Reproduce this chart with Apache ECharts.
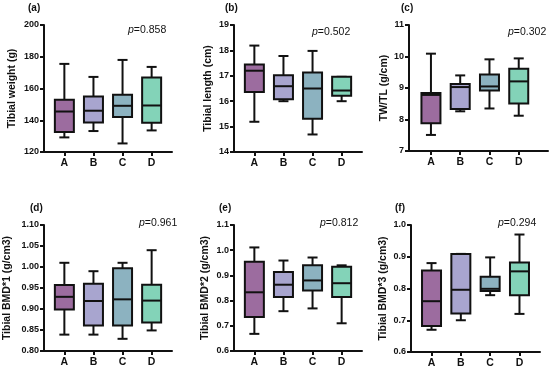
<!DOCTYPE html>
<html>
<head>
<meta charset="utf-8">
<script src="https://cdn.jsdelivr.net/npm/echarts@6/dist/echarts.min.js"></script>
<style>html,body{margin:0;padding:0;background:#fff}#c{width:550px;height:371px}</style>
</head>
<body>
<div id="c"></div>
<script>
// ---- data: each row = [min, Q1, median, Q3, max] for groups A..D ----
const categories = ['A', 'B', 'C', 'D'];
const weightStats = [
  [129.2, 132.6, 145.5, 152.9, 175.5],
  [133.2, 138.6, 146.0, 155.0, 167.3],
  [125.4, 142.0, 149.1, 156.0, 178.0],
  [133.6, 138.4, 149.3, 166.9, 173.6]
];
const lengthStats = [
  [15.19, 16.36, 17.20, 17.44, 18.19],
  [16.00, 16.08, 16.59, 17.02, 17.78],
  [14.69, 15.31, 16.50, 17.13, 17.98],
  [16.00, 16.21, 16.42, 16.96, 16.96]
];
const ratioStats = [
  [7.51, 7.88, 8.78, 8.84, 10.09],
  [8.26, 8.33, 9.03, 9.13, 9.40],
  [8.35, 8.92, 9.05, 9.43, 9.91],
  [8.12, 8.51, 9.21, 9.61, 9.94]
];
const bmd1Stats = [
  [0.839, 0.899, 0.929, 0.957, 1.010],
  [0.839, 0.861, 0.919, 0.960, 0.990],
  [0.829, 0.861, 0.923, 0.997, 1.010],
  [0.849, 0.868, 0.920, 0.958, 1.040]
];
const bmd2Stats = [
  [0.668, 0.735, 0.833, 0.954, 1.011],
  [0.758, 0.814, 0.863, 0.913, 0.959],
  [0.769, 0.840, 0.880, 0.940, 0.971],
  [0.710, 0.814, 0.869, 0.934, 0.940]
];
const bmd3Stats = [
  [0.670, 0.682, 0.760, 0.857, 0.880],
  [0.700, 0.721, 0.796, 0.909, 0.909],
  [0.779, 0.792, 0.799, 0.837, 0.898],
  [0.720, 0.779, 0.854, 0.882, 0.970]
];
const panelLabels = ['(a)', '(b)', '(c)', '(d)', '(e)', '(f)'];
const pValues = ['0.858', '0.502', '0.302', '0.961', '0.812', '0.294'];
const yNames = ['Tibial weight (g)', 'Tibial length (cm)', 'TW/TL (g/cm)',
  'Tibial BMD*1 (g/cm3)', 'Tibial BMD*2 (g/cm3)', 'Tibial BMD*3 (g/cm3)'];
const yMin = [120, 14, 7, 0.80, 0.6, 0.6];
const yMax = [200, 19, 11, 1.10, 1.1, 1.0];
const yInterval = [20, 1, 1, 0.05, 0.1, 0.1];
const yDecimals = [0, 0, 0, 2, 1, 1];
const allStats = [weightStats, lengthStats, ratioStats, bmd1Stats, bmd2Stats, bmd3Stats];

// ---- layout / style ----
const boxColors = ['#9c6c9f', '#a8a5cf', '#8cb2c0', '#83d3b8'];
const grids = [
  {left: 44, top: 25, width: 128, height: 127},
  {left: 234, top: 25, width: 128, height: 127},
  {left: 409, top: 25, width: 139, height: 126},
  {left: 44, top: 225, width: 128, height: 126},
  {left: 234, top: 225, width: 128, height: 126},
  {left: 411, top: 225, width: 129, height: 127}
];
const xRange = [[-0.7, 3.7], [-0.7, 3.7], [-0.75, 4.0], [-0.7, 3.7], [-0.7, 3.7], [-0.7, 3.7]];
const nameGaps = [26, 20, 15, 31, 23, 22];
const labelPos = [[28, 3], [225, 3], [401, 3], [30, 203], [219, 203], [395, 203]];
const pPos = [[128, 25], [312, 27], [508, 27], [139, 218], [320, 218], [498, 218]];

const FONT = 'Liberation Sans, Arial, sans-serif';
const INK = '#111';

function renderBox(params, api) {
  const x = api.value(0);
  const pMin = api.coord([x, api.value(1)]);
  const pQ1 = api.coord([x, api.value(2)]);
  const pMed = api.coord([x, api.value(3)]);
  const pQ3 = api.coord([x, api.value(4)]);
  const pMax = api.coord([x, api.value(5)]);
  const cx = pMed[0];
  const hw = 9.5, cw = 5;
  const ls = {stroke: INK, lineWidth: 2};
  return {
    type: 'group',
    children: [
      {type: 'line', shape: {x1: cx, y1: pMin[1], x2: cx, y2: pQ1[1]}, style: ls},
      {type: 'line', shape: {x1: cx, y1: pQ3[1], x2: cx, y2: pMax[1]}, style: ls},
      {type: 'line', shape: {x1: cx - cw, y1: pMin[1], x2: cx + cw, y2: pMin[1]}, style: ls},
      {type: 'line', shape: {x1: cx - cw, y1: pMax[1], x2: cx + cw, y2: pMax[1]}, style: ls},
      {type: 'rect', shape: {x: cx - hw, y: pQ3[1], width: hw * 2, height: pQ1[1] - pQ3[1]},
        style: {fill: boxColors[params.dataIndex % 4], stroke: INK, lineWidth: 2}},
      {type: 'line', shape: {x1: cx - hw, y1: pMed[1], x2: cx + hw, y2: pMed[1]}, style: ls}
    ]
  };
}

const option = {
  animation: false,
  backgroundColor: '#fff',
  grid: grids.map(g => Object.assign({containLabel: false}, g)),
  xAxis: grids.map((g, i) => ({
    type: 'value', gridIndex: i, min: xRange[i][0], max: xRange[i][1],
    splitLine: {show: false},
    axisLine: {show: true, onZero: false, lineStyle: {color: INK, width: 2}},
    axisTick: {show: true, customValues: [0, 1, 2, 3], length: 4, lineStyle: {color: INK, width: 2}},
    axisLabel: {customValues: [0, 1, 2, 3], formatter: v => categories[Math.round(v)] || '',
      color: INK, fontFamily: FONT, fontWeight: 'bold', fontSize: 10.5, margin: 6}
  })),
  yAxis: grids.map((g, i) => ({
    type: 'value', gridIndex: i, min: yMin[i], max: yMax[i], interval: yInterval[i],
    name: yNames[i], nameLocation: 'middle', nameGap: nameGaps[i],
    nameTextStyle: {color: INK, fontFamily: FONT, fontWeight: 'bold', fontSize: 10.5},
    splitLine: {show: false},
    axisLine: {show: true, onZero: false, lineStyle: {color: INK, width: 2}},
    axisTick: {show: true, length: 4, lineStyle: {color: INK, width: 2}},
    axisLabel: {formatter: v => v.toFixed(yDecimals[i]), color: INK, fontFamily: FONT,
      fontWeight: 'bold', fontSize: 9, margin: 5}
  })),
  title: [].concat(
    panelLabels.map((t, i) => ({
      text: t, left: labelPos[i][0], top: labelPos[i][1], padding: 0,
      textStyle: {color: INK, fontFamily: FONT, fontWeight: 'bold', fontSize: 10}
    })),
    pValues.map((p, i) => ({
      text: '{i|p}{n|=' + p + '}', left: pPos[i][0], top: pPos[i][1], padding: 0,
      textStyle: {fontWeight: 'normal', color: INK, fontFamily: FONT, fontSize: 10.5, rich: {
        i: {fontStyle: 'italic', fontWeight: 'normal', fontFamily: FONT, fontSize: 10.5, color: INK},
        n: {fontWeight: 'normal', fontFamily: FONT, fontSize: 10.5, color: INK}
      }}
    }))
  ),
  series: allStats.map((stats, i) => ({
    type: 'custom', xAxisIndex: i, yAxisIndex: i,
    renderItem: renderBox,
    encode: {x: 0, y: [1, 2, 3, 4, 5]},
    data: stats.map((row, k) => [k].concat(row))
  }))
};

const chart = echarts.init(document.getElementById('c'), null, {renderer: 'canvas'});
chart.setOption(option);
</script>
</body>
</html>
